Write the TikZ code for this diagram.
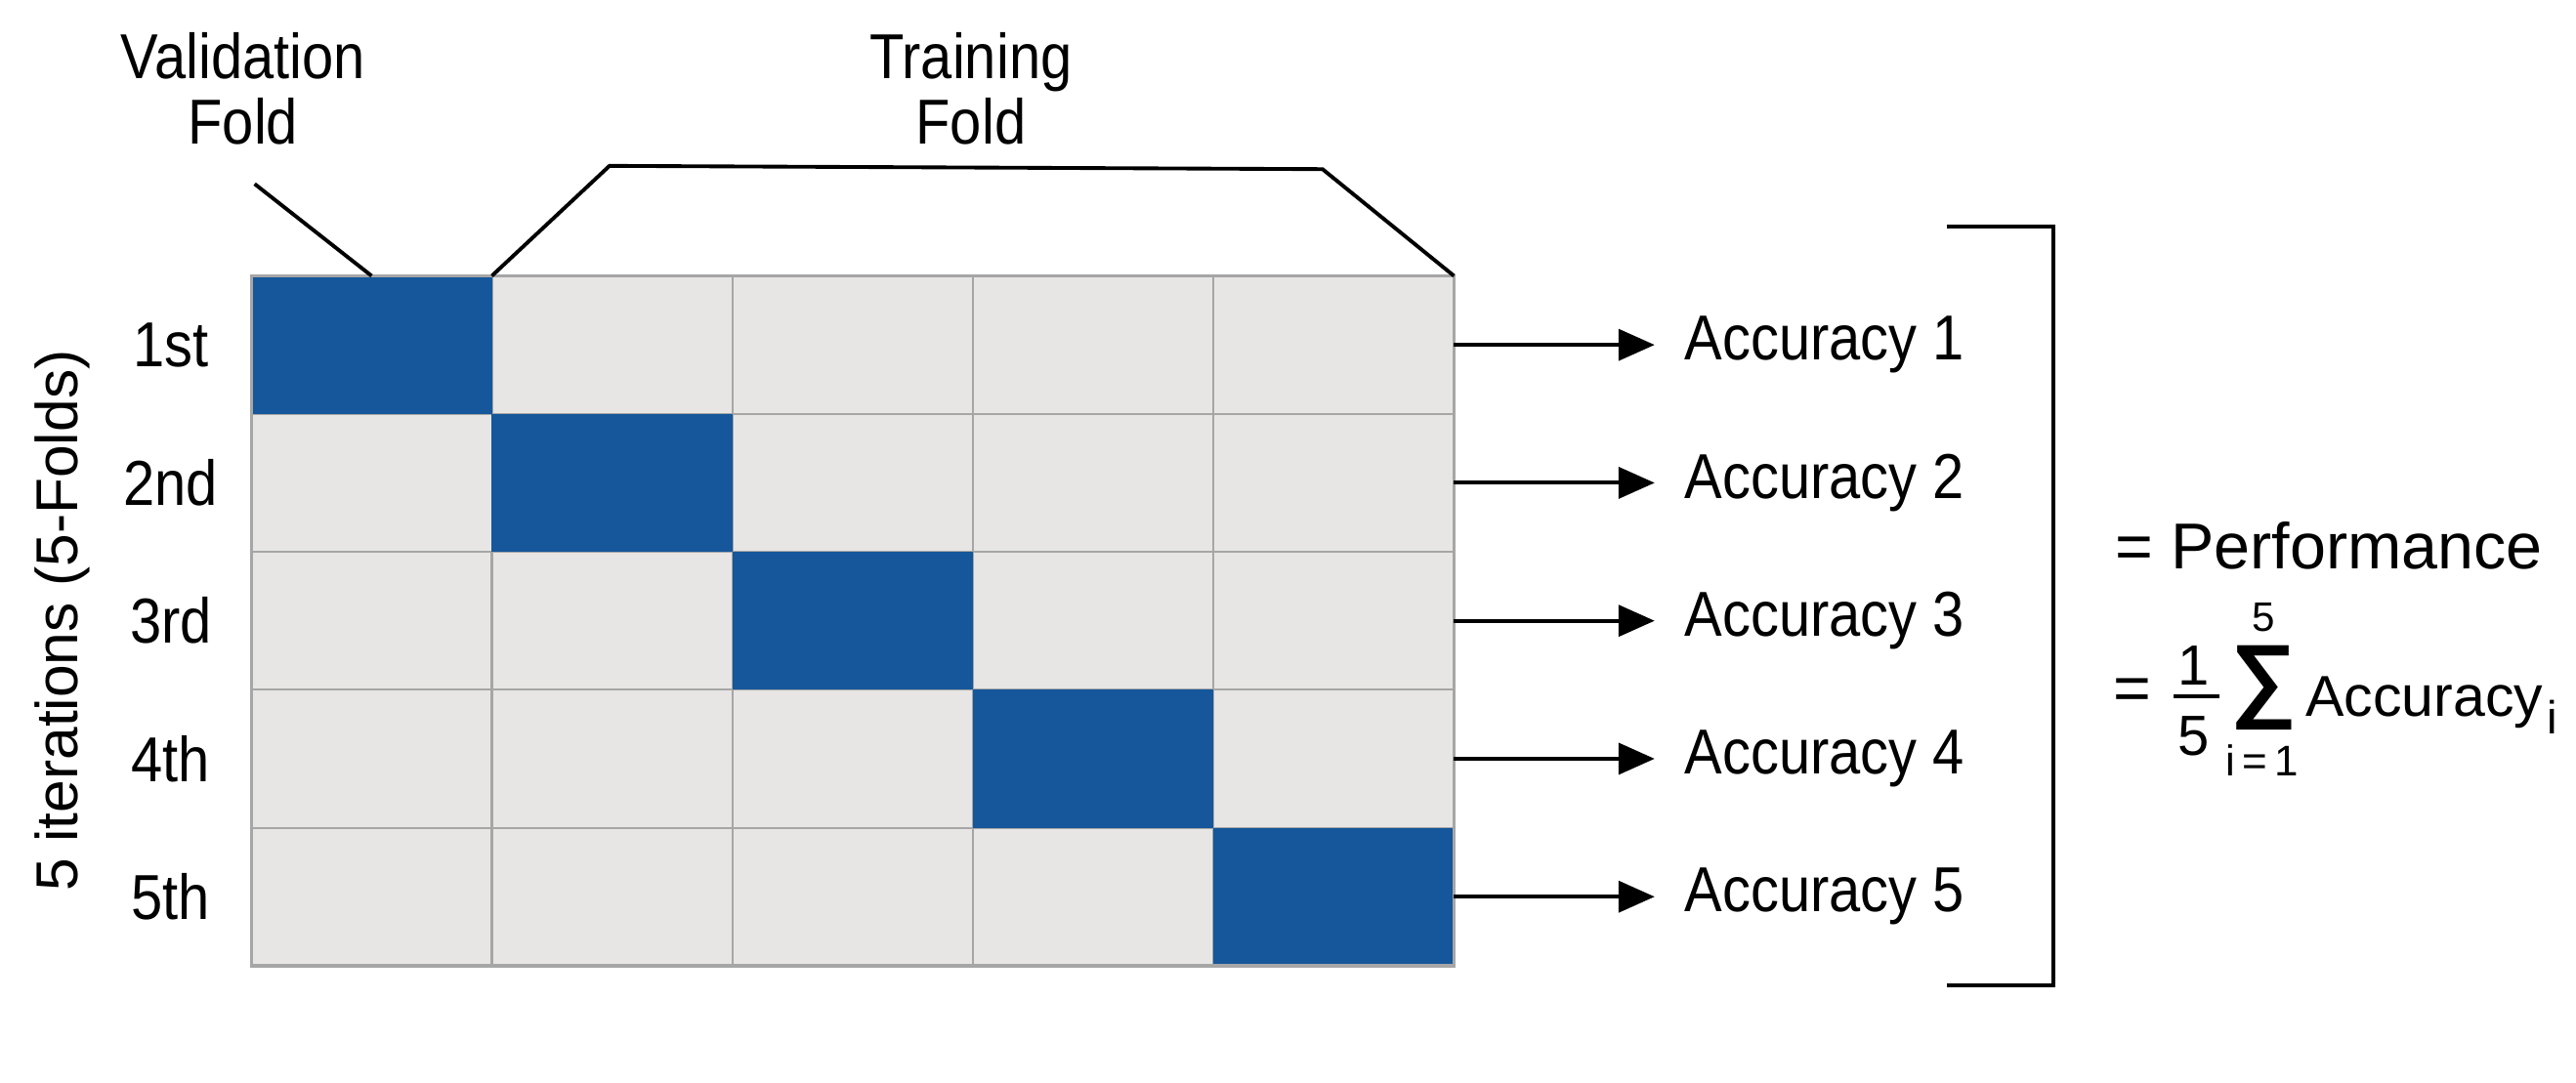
\documentclass[tikz,border=0pt]{standalone}
\usepackage{fontspec}
\setmainfont{Liberation Sans}
\newfontfamily\narrowfont[FakeStretch=0.89]{Liberation Sans}
\usetikzlibrary{arrows.meta}
\definecolor{foldblue}{HTML}{15579A}
\definecolor{cellgray}{HTML}{E7E6E5}
\definecolor{gridgray}{HTML}{A6A6A6}
\begin{document}
\begin{tikzpicture}[x=0.01682cm,y=-0.01682cm,
  cell/.style={draw=gridgray, line width=0.6pt, fill=cellgray, minimum width=2.4625cm, minimum height=1.4129cm, inner sep=0pt, outer sep=0pt},
  valcell/.style={cell, draw=none, fill=foldblue},
  lbl/.style={font=\narrowfont\fontsize{18.5}{19.2}\selectfont, inner sep=0pt},
  perf/.style={font=\fontsize{18.9}{21}\selectfont, inner sep=0pt},
  blk/.style={draw=black, line width=1.1pt},
  arr/.style={blk, -{Triangle[length=0.37cm,width=0.32cm]}, shorten >=0.3cm}
]
\useasboundingbox (0,0) rectangle (1568,659);
% grid
\foreach \i in {1,...,5}{
  \foreach \j in {1,...,5}{
    \ifnum\i=\j\else
      \node[cell] (c\i\j) at ({153+146.4*(\j-0.5)},{168+84*(\i-0.5)}) {};
    \fi
  }
}
\foreach \i in {1,...,5}{
  \node[valcell] (c\i\i) at ({153+146.4*(\i-0.5)},{168+84*(\i-0.5)}) {};
}
\draw[gridgray, line width=1pt] (c11.north west) rectangle (c55.south east);
% row labels
\foreach \i/\t in {1/1st,2/2nd,3/3rd,4/4th,5/5th}{
  \node[lbl] (r\i) at (104,{168+84*(\i-0.5)}) {\t};
}
\node[font=\fontsize{17.2}{20}\selectfont, rotate=90, inner sep=0pt] (iters) at (38,378) {5 iterations (5-Folds)};
% top labels
\node[lbl, align=center] (val) at (148,54) {Validation\\Fold};
\node[lbl, align=center] (train) at (591,54) {Training\\Fold};
\coordinate (vstart) at (155,112);
\coordinate (tb1) at (371,101);
\coordinate (tb2) at (805,103);
\draw[blk] (vstart) -- (c11.north);
\draw[blk] (c12.north west) -- (tb1) -- (tb2) -- (c15.north east);
% accuracy
\foreach \i in {1,...,5}{
  \node[lbl, anchor=west] (acc\i) at (1025,{168+84*(\i-0.5)}) {Accuracy \i};
  \draw[arr] (c\i5.east) -- (acc\i.west);
}
% bracket
\coordinate (bt1) at (1185,138);
\coordinate (bt2) at (1250,138);
\coordinate (bb2) at (1250,600);
\coordinate (bb1) at (1185,600);
\draw[blk] (bt1) -- (bt2) -- (bb2) -- (bb1);
% performance
\node[perf, anchor=west] (perf) at (1287,332) {= Performance};
\node[perf] (eq2) at (1298,423) {=};
\node[font=\fontsize{16.5}{18}\selectfont, inner sep=0pt] (num) at (1335,405) {1};
\node[font=\fontsize{16.5}{18}\selectfont, inner sep=0pt] (den) at (1335,448) {5};
\draw[line width=1pt] (1323,424) -- (1351,424);
\node[font=\fontsize{27}{29}\selectfont, inner sep=0pt, anchor=base] (sig) at (1378,432) {\textbf{∑}};
\node[font=\fontsize{12}{13}\selectfont, inner sep=0pt] (sup) at (1378,376) {5};
\node[font=\fontsize{12.5}{14}\selectfont, inner sep=0pt] (sub) at (1377,463) {i\,=\,1};
\node[font=\fontsize{16.8}{19}\selectfont, inner sep=0pt, anchor=base west] (accf) at (1403,436) {Accuracy};
\node[font=\fontsize{13.5}{15}\selectfont, inner sep=0pt, anchor=base west] (subi) at (accf.base east) [yshift=-0.18cm, xshift=0.03cm] {i};
\end{tikzpicture}
\end{document}
